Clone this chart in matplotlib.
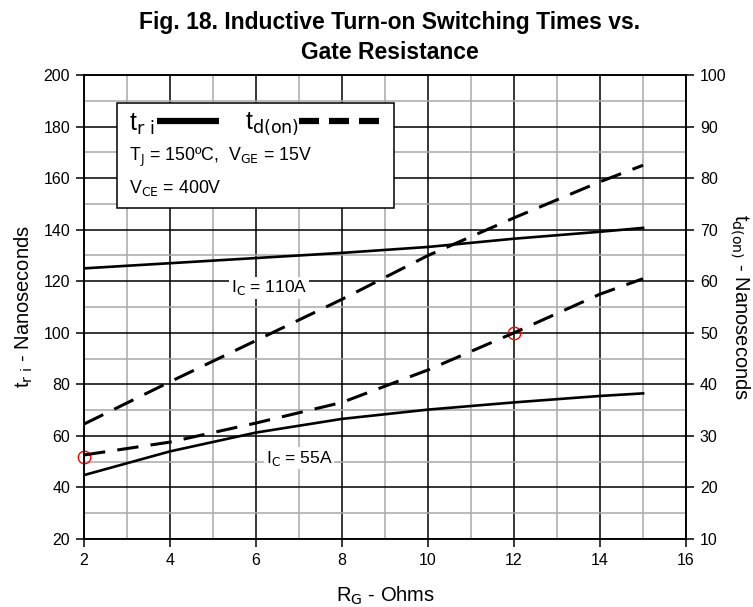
import matplotlib
matplotlib.use('Agg')
import matplotlib.pyplot as plt

plt.rcParams['font.family'] = ['Liberation Sans', 'DejaVu Sans']

# gate resistance (ohms)
rg = [2, 4, 6, 8, 10, 12, 14, 15]

# t_ri (left axis, ns)
tri_110 = [125, 127, 129, 131, 133.3, 136.5, 139.2, 140.7]
tri_55 = [44.8, 54, 61.3, 66.6, 70.2, 73, 75.5, 76.5]

# t_d(on) (right axis, ns)
tdon_110 = [32.3, 40.5, 48.5, 56.5, 65, 72.3, 79.3, 82.5]
tdon_55 = [26.3, 28.8, 32.5, 36.5, 42.8, 50, 57.5, 60.5]

# red circle markers (left axis units)
mark_x = [2, 12]
mark_y = [52, 100]

fig = plt.figure(figsize=(7.53, 6.07), dpi=100)
ax = fig.add_axes([0.1116, 0.112, 0.7995, 0.7644])
ax2 = ax.twinx()

ax.set_xlim(2, 16)
ax.set_ylim(20, 200)
ax2.set_ylim(10, 100)

ax.set_xticks(range(2, 17, 2))
ax.set_xticks(range(3, 16, 2), minor=True)
ax.set_yticks(range(20, 201, 20))
ax.set_yticks(range(30, 200, 20), minor=True)
ax2.set_yticks(range(10, 101, 10))

ax.grid(which='major', color='black', lw=1.1)
ax.grid(which='minor', color='#a8a8a8', lw=1.1)
ax.set_axisbelow(True)
ax.tick_params(which='major', direction='out', length=6, width=1.1, labelsize=11.5, pad=4)
ax.tick_params(which='minor', length=0)
ax2.tick_params(direction='out', length=6, width=1.1, labelsize=11.5, pad=4)
for a in (ax, ax2):
    for s in a.spines.values():
        s.set_linewidth(1.1)

ax.plot(rg, tri_110, color='black', lw=1.9)
ax.plot(rg, tri_55, color='black', lw=1.9)
ax2.plot(rg, tdon_110, color='black', lw=2.2, dashes=(7, 4))
ax2.plot(rg, tdon_55, color='black', lw=2.2, dashes=(7, 4))
ax.plot(mark_x, mark_y, 'o', mfc='none', mec='red', ms=9, mew=1, clip_on=False, zorder=5)

ax.text(6.3, 117.5, r'I$_{\rm C}$ = 110A', fontsize=12.5, ha='center', va='center',
        bbox=dict(facecolor='white', edgecolor='none', pad=1))
ax.text(7.0, 51.4, r'I$_{\rm C}$ = 55A', fontsize=12.5, ha='center', va='center',
        bbox=dict(facecolor='white', edgecolor='none', pad=1))

# legend box
ax.add_patch(plt.Rectangle((2.77, 148.4), 6.43, 40.6, facecolor='white',
                           edgecolor='black', lw=1.1, zorder=3))
ax.text(3.05, 181, r't$_{\rm r\ i}$', fontsize=18, va='center', zorder=4)
ax.plot([3.7, 5.15], [182.3, 182.3], color='black', lw=4.5, zorder=4, solid_capstyle='butt')
ax.text(5.75, 181, r't$_{\rm d(on)}$', fontsize=18, va='center', zorder=4)
ax.plot([7.0, 9.0], [182.3, 182.3], color='black', lw=4.5, dashes=(3.2, 1.6), zorder=4)
ax.text(3.05, 168, r'T$_{\rm J}$ = 150ºC,  V$_{\rm GE}$ = 15V', fontsize=12.8, va='center', zorder=4)
ax.text(3.05, 156, r'V$_{\rm CE}$ = 400V', fontsize=12.8, va='center', zorder=4)

ax.set_xlabel(r'R$_{\rm G}$ - Ohms', fontsize=14.5, labelpad=12)
ax.set_ylabel(r't$_{\rm r\ i}$ - Nanoseconds', fontsize=14.5, labelpad=6)
ax2.set_ylabel(r't$_{\rm d(on)}$ - Nanoseconds', fontsize=14.5, rotation=-90, labelpad=18)

fig.text(0.518, 0.963, 'Fig. 18. Inductive Turn-on Switching Times vs.',
         fontsize=16.5, fontweight='bold', ha='center', va='center')
fig.text(0.518, 0.913, 'Gate Resistance',
         fontsize=16.5, fontweight='bold', ha='center', va='center')

fig.savefig('out.png', dpi=100)
